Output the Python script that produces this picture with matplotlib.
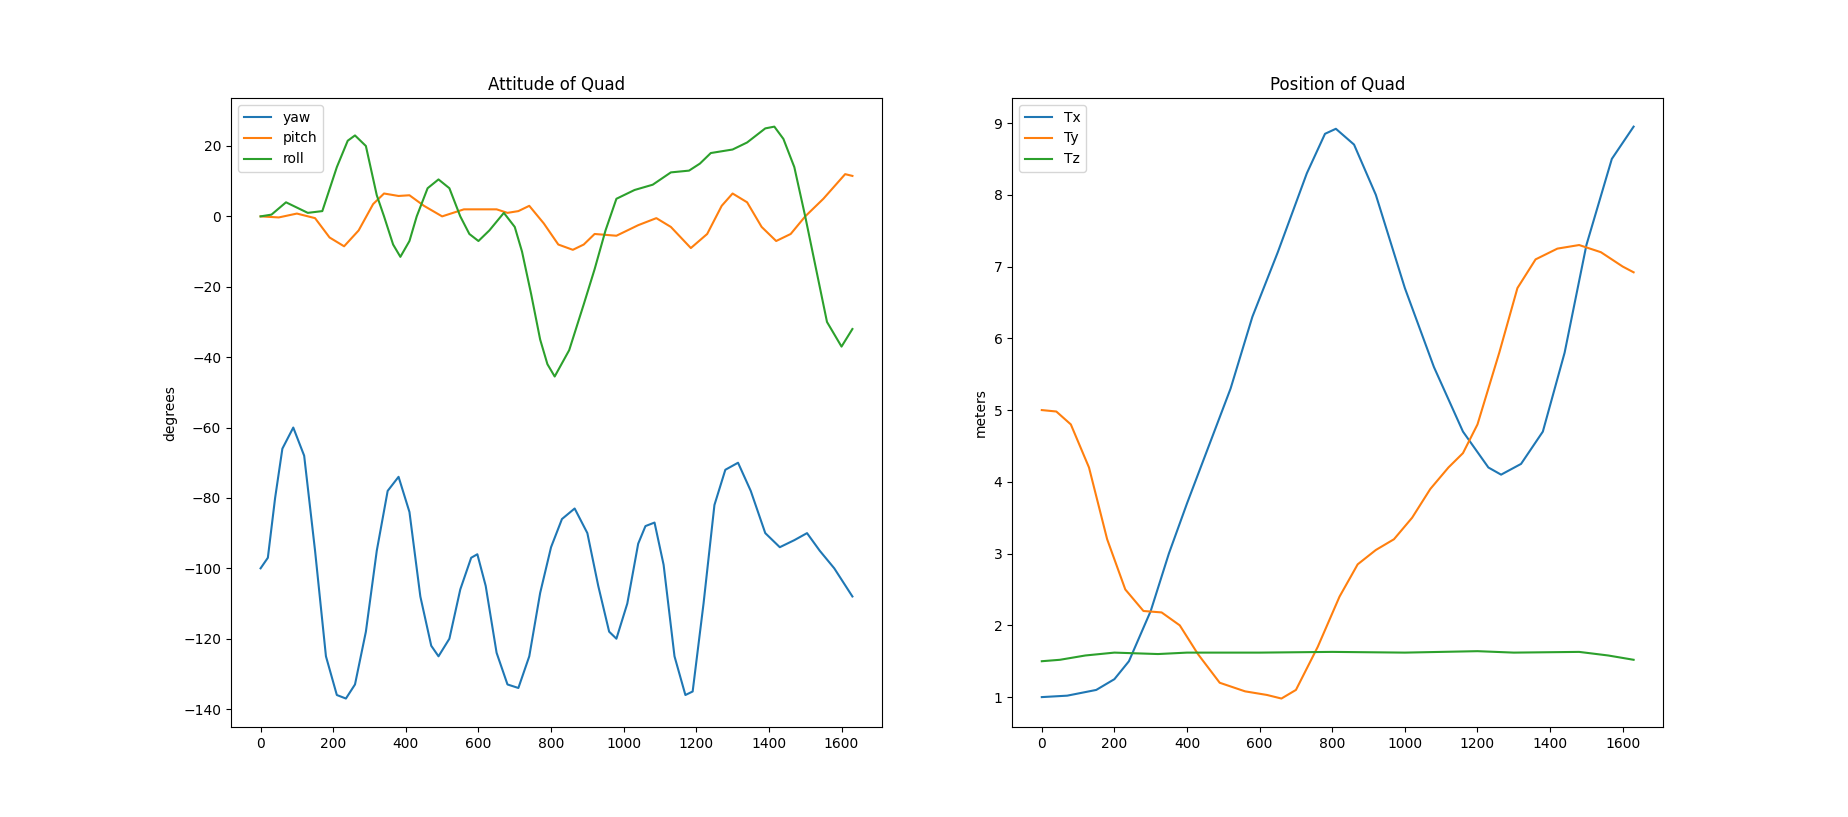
import matplotlib
matplotlib.use("Agg")
import matplotlib.pyplot as plt

# attitude (degrees)
yaw_x = [0, 20, 40, 60, 90, 120, 150, 180, 210, 235, 260, 290, 320, 350, 380, 410, 440, 470, 490, 520,
         550, 580, 597, 620, 650, 680, 710, 740, 770, 800, 830, 865, 900, 930, 960, 980, 1010, 1040, 1060,
         1085, 1110, 1140, 1170, 1190, 1220, 1250, 1280, 1315, 1350, 1390, 1430, 1470, 1505, 1540, 1580, 1630]
yaw_y = [-100, -97, -80, -66, -60, -68, -95, -125, -136, -137, -133, -118, -95, -78, -74, -84, -108, -122,
         -125, -120, -106, -97, -96, -105, -124, -133, -134, -125, -107, -94, -86, -83, -90, -105, -118, -120,
         -110, -93, -88, -87, -99, -125, -136, -135, -110, -82, -72, -70, -78, -90, -94, -92, -90, -95, -100, -108]

pitch_x = [0, 50, 100, 150, 190, 230, 270, 310, 340, 380, 410, 450, 500, 560, 650, 680, 710, 740, 780,
           820, 860, 890, 920, 980, 1040, 1090, 1130, 1185, 1230, 1270, 1300, 1340, 1380, 1420, 1460, 1500,
           1550, 1610, 1630]
pitch_y = [0, -0.3, 0.8, -0.5, -6, -8.5, -4, 3.5, 6.5, 5.8, 6, 3, 0, 2, 2, 1, 1.5, 3, -2,
           -8, -9.5, -8, -5, -5.5, -2.5, -0.5, -3, -9, -5, 3, 6.5, 4, -3, -7, -5, 0,
           5, 12, 11.5]

roll_x = [0, 30, 70, 100, 130, 170, 210, 240, 260, 290, 320, 340, 365, 385, 410, 430, 460, 490, 520, 550,
          575, 600, 630, 670, 700, 720, 745, 770, 790, 810, 850, 890, 920, 950, 980, 1030, 1080, 1130,
          1180, 1210, 1240, 1300, 1340, 1390, 1415, 1440, 1470, 1500, 1530, 1560, 1600, 1630]
roll_y = [0, 0.5, 4, 2.5, 1, 1.5, 14, 21.5, 23, 20, 6, 0, -8, -11.5, -7, 0, 8, 10.5, 8, 0,
          -5, -7, -4, 1, -3, -10, -22, -35, -42, -45.5, -38, -25, -15, -4, 5, 7.5, 9, 12.5,
          13, 15, 18, 19, 21, 25, 25.5, 22, 14, 0, -15, -30, -37, -32]

# position (meters)
tx_x = [0, 70, 150, 200, 240, 300, 350, 400, 460, 520, 580, 650, 730, 780, 810, 860, 920, 1000, 1080,
        1160, 1230, 1265, 1320, 1380, 1440, 1500, 1570, 1630]
tx_y = [1, 1.02, 1.1, 1.25, 1.5, 2.2, 3.0, 3.7, 4.5, 5.3, 6.3, 7.2, 8.3, 8.85, 8.92, 8.7, 8.0, 6.7, 5.6,
        4.7, 4.2, 4.1, 4.25, 4.7, 5.8, 7.3, 8.5, 8.95]

ty_x = [0, 40, 80, 130, 180, 230, 280, 330, 380, 430, 490, 560, 620, 660, 700, 760, 820, 870, 920, 970,
        1020, 1070, 1120, 1160, 1200, 1260, 1310, 1360, 1420, 1480, 1540, 1600, 1630]
ty_y = [5, 4.98, 4.8, 4.2, 3.2, 2.5, 2.2, 2.18, 2.0, 1.6, 1.2, 1.08, 1.03, 0.98, 1.1, 1.7, 2.4, 2.85, 3.05,
        3.2, 3.5, 3.9, 4.2, 4.4, 4.8, 5.8, 6.7, 7.1, 7.25, 7.3, 7.2, 7.0, 6.92]

tz_x = [0, 50, 120, 200, 320, 400, 600, 800, 1000, 1200, 1300, 1480, 1560, 1630]
tz_y = [1.5, 1.52, 1.58, 1.62, 1.6, 1.62, 1.62, 1.63, 1.62, 1.64, 1.62, 1.63, 1.58, 1.52]

fig, (ax1, ax2) = plt.subplots(1, 2, figsize=(18.48, 8.17), dpi=100)

ax1.plot(yaw_x, yaw_y, label="yaw")
ax1.plot(pitch_x, pitch_y, label="pitch")
ax1.plot(roll_x, roll_y, label="roll")
ax1.set_title("Attitude of Quad")
ax1.set_ylabel("degrees")
ax1.legend(loc="upper left")

ax2.plot(tx_x, tx_y, label="Tx")
ax2.plot(ty_x, ty_y, label="Ty")
ax2.plot(tz_x, tz_y, label="Tz")
ax2.set_title("Position of Quad")
ax2.set_ylabel("meters")
ax2.legend(loc="upper left")

fig.savefig("out.png")
